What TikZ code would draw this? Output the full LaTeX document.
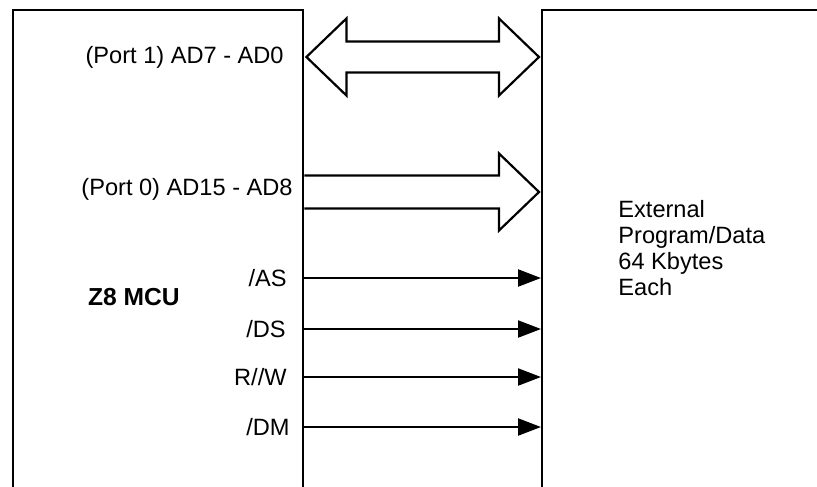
\documentclass[tikz,border=0pt]{standalone}
\usepackage{fontspec}
\setmainfont{Liberation Sans}
\usetikzlibrary{positioning,arrows.meta,calc}
\tikzset{
  bloc/.style       = {draw, line width=1.2pt, minimum height=300pt, anchor=north west, inner sep=0pt},
  eticheta/.style   = {font=\fontsize{11.8}{13}\selectfont, inner sep=0pt, anchor=east},
  semnal/.style     = {-{Triangle[length=11.5pt,width=8.5pt]}, line width=1.1pt},
  magistrala/.style = {draw, line width=1.1pt, line join=miter}
}

\begin{document}
\begin{tikzpicture}[x=0.5pt, y=-0.5pt]
  \useasboundingbox (0,0) rectangle (817,486);
  \clip (0,0) rectangle (817,486);

  \node[bloc, minimum width=145pt] (mcu) at (12,9) {};
  \node[bloc, minimum width=200pt] (mem) at (541,9) {};

  \node[eticheta, anchor=center, font=\fontsize{12.3}{13}\selectfont\bfseries] (nume) at (134,297) {Z8 MCU};
  \node[eticheta, anchor=north west, align=left] (memorie) at (618,200) {External\\ Program/Data\\ 64 Kbytes\\ Each};

  \node[eticheta] (port1) at (284,57) {(Port 1) AD7 - AD0};
  \node[eticheta] (port0) at (293,189) {(Port 0) AD15 - AD8};
  \node[eticheta] (as) at (287,278) {/AS};
  \node[eticheta] (ds) at (286,329) {/DS};
  \node[eticheta] (rw) at (287,377) {R//W};
  \node[eticheta] (dm) at (290,427) {/DM};

  % magistrala de date, bidirectionala
  \coordinate (b1s) at ($(mcu.east |- port1)+(2,0)$);
  \coordinate (b1d) at ($(mem.west |- port1)+(-2,0)$);
  \draw[magistrala] (b1s) -- ++(40,-38.5) -- ++(0,23) -- ($(b1d)+(-40,-15.5)$) -- ++(0,-23)
    -- (b1d) -- ++(-40,38.5) -- ++(0,-23) -- ($(b1s)+(40,15.5)$) -- ++(0,23) -- cycle;

  % magistrala de adrese
  \coordinate (b0) at ($(mem.west |- port0)+(-2,3)$);
  \draw[magistrala] ($(mcu.east |- b0)+(0,-16.5)$) -- ($(b0)+(-40,-16.5)$) -- ++(0,-22)
    -- (b0) -- ++(-40,38.5) -- ++(0,-22) -- ($(mcu.east |- b0)+(0,16.5)$);

  \foreach \s in {as,ds,rw,dm}
    \draw[semnal] (mcu.east |- \s) -- (mem.west |- \s);
\end{tikzpicture}
\end{document}
